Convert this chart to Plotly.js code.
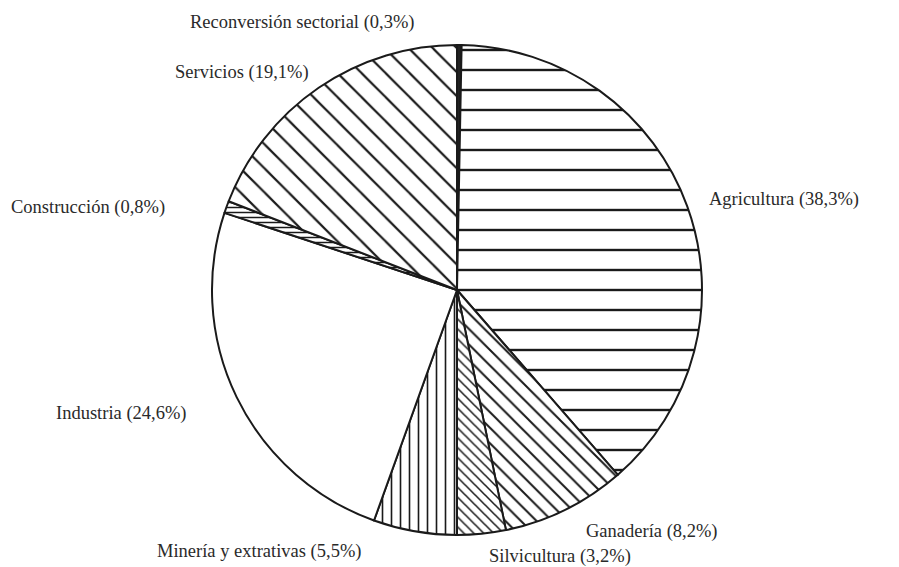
<!DOCTYPE html>
<html><head><meta charset="utf-8">
<script src="https://cdn.plot.ly/plotly-3.0.1.min.js"></script>
<style>html,body{margin:0;padding:0;background:#fff;}</style>
</head><body>
<div id="chart" style="width:899px;height:567px;"></div>
<script>
const labels = ["Reconversión sectorial", "Agricultura", "Ganadería", "Silvicultura", "Minería y extrativas", "Industria", "Construcción", "Servicios"];
const values = [0.3, 38.3, 8.2, 3.2, 5.5, 24.6, 0.8, 19.1];
const patterns = ["", "-", "\\", "\\", "|", "", "-", "\\"];

const fills = ["#222", "#fff", "#fff", "#fff", "#fff", "#fff", "#fff", "#fff"];
const labelPos = [
  [188, 22], [707, 199], [584, 531], [487, 556], [155, 551], [54, 413], [9, 207], [173, 72]
];
const W = 899, H = 567;
const annotations = labels.map((l, i) => ({
  text: l + " (" + values[i].toFixed(1).replace(".", ",") + "%)",
  xref: "paper", yref: "paper",
  x: labelPos[i][0] / W, y: 1 - labelPos[i][1] / H,
  xanchor: "left", yanchor: "middle", showarrow: false,
  font: {family: "Liberation Serif, Times New Roman, serif", size: 18.5, color: "#2a2a2a"}
}));

Plotly.newPlot("chart", [{
  type: "pie",
  labels: labels,
  values: values,
  sort: false,
  direction: "clockwise",
  rotation: 0,
  textinfo: "none",
  hoverinfo: "label+percent",
  domain: {x: [212 / W, 702 / W], y: [(H - 535) / H, (H - 45) / H]},
  marker: {
    colors: fills,
    line: {color: "#1a1a1a", width: 2},
    pattern: {shape: patterns, fgcolor: "#1a1a1a", fgopacity: 1, bgcolor: "#fff", size: [8, 20, 11, 7, 9, 8, 5, 17], solidity: [0.2, 0.12, 0.18, 0.22, 0.18, 0.2, 0.3, 0.13], fillmode: "overlay"}
  }
}], {
  width: W, height: H,
  margin: {l: 0, r: 0, t: 0, b: 0},
  showlegend: false,
  paper_bgcolor: "#fff",
  annotations: annotations
}, {displayModeBar: false, staticPlot: true});
</script>
</body></html>
